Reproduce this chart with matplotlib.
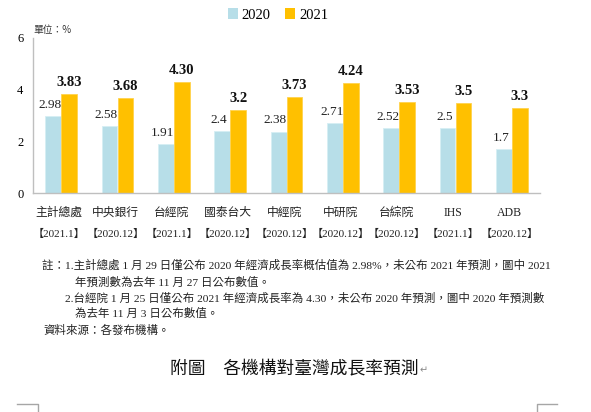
import matplotlib

matplotlib.use("Agg")
import matplotlib.pyplot as plt  # noqa: E402
import numpy as np  # noqa: E402
from matplotlib.lines import Line2D  # noqa: E402
from matplotlib.patches import Patch  # noqa: E402

# --- datos ---
instituciones = ["主計總處", "中央銀行", "台經院", "國泰台大", "中經院",
                 "中研院", "台綜院", "IHS", "ADB"]
fechas = ["【2021.1】", "【2020.12】", "【2021.1】", "【2020.12】", "【2020.12】",
          "【2020.12】", "【2020.12】", "【2021.1】", "【2020.12】"]
valores_2020 = [2.98, 2.58, 1.91, 2.4, 2.38, 2.71, 2.52, 2.5, 1.7]
valores_2021 = [3.83, 3.68, 4.30, 3.2, 3.73, 4.24, 3.53, 3.5, 3.3]
etiquetas_2020 = ["2.98", "2.58", "1.91", "2.4", "2.38", "2.71", "2.52", "2.5", "1.7"]
etiquetas_2021 = ["3.83", "3.68", "4.30", "3.2", "3.73", "4.24", "3.53", "3.5", "3.3"]
series = ["2020", "2021"]

notas = [
    "註：1.主計總處 1 月 29 日僅公布 2020 年經濟成長率概估值為 2.98%，未公布 2021 年預測，圖中 2021",
    "年預測數為去年 11 月 27 日公布數值。",
    "2.台經院 1 月 25 日僅公布 2021 年經濟成長率為 4.30，未公布 2020 年預測，圖中 2020 年預測數",
    "為去年 11 月 3 日公布數值。",
    "資料來源：各發布機構。",
]
titulo = "附圖　各機構對臺灣成長率預測"

AZUL = "#B7DEE8"
NARANJA = "#FFC000"
GRIS = "#BFBFBF"
SERIF = ["Liberation Serif", "Noto Sans CJK TC"]
CJK = ["Noto Sans CJK TC", "Liberation Serif"]

W, H = 591, 412
fig = plt.figure(figsize=(W / 100, H / 100), dpi=100)
ax = fig.add_axes([33 / W, 1 - 193 / H, 507 / W, 155 / H])

x = np.arange(len(instituciones))
ancho = 0.284
ax.bar(x - ancho / 2, valores_2020, ancho, color=AZUL, edgecolor="#D6EEF4", linewidth=0.6)
ax.bar(x + ancho / 2, valores_2021, ancho, color=NARANJA, edgecolor="#FFD34D", linewidth=0.6)

for xi, v, t in zip(x, valores_2020, etiquetas_2020):
    ax.annotate(t, (xi - ancho / 2, v), xytext=(-2.2, 5.8), textcoords="offset points",
                ha="center", va="baseline", fontsize=9.5, family=SERIF, color="#222222")
for xi, v, t in zip(x, valores_2021, etiquetas_2021):
    ax.annotate(t, (xi + ancho / 2, v), xytext=(0, 5.8), textcoords="offset points",
                ha="center", va="baseline", fontsize=10.5, family=SERIF,
                fontweight="bold", color="#111111")

ax.set_xlim(-0.5, len(instituciones) - 0.5)
ax.set_ylim(0, 6)
ax.set_yticks([0, 2, 4, 6])
ax.set_xticks([])
ax.tick_params(axis="y", length=0, pad=7, labelsize=9)
for lab in ax.get_yticklabels():
    lab.set_family(SERIF)
for lado in ["top", "right"]:
    ax.spines[lado].set_visible(False)
for lado in ["left", "bottom"]:
    ax.spines[lado].set_color(GRIS)
    ax.spines[lado].set_linewidth(1.0)

# etiquetas de categoría en dos filas
trans = ax.get_xaxis_transform()
for xi, nombre, fecha in zip(x, instituciones, fechas):
    ax.text(xi - 0.04, -0.129, nombre, transform=trans, ha="center", va="center",
            fontsize=8.5, family=SERIF, color="#222222")
    ax.text(xi - 0.04, -0.265, fecha, transform=trans, ha="center", va="center",
            fontsize=8, family=SERIF, color="#222222")

fig.text(33 / W, 1 - 30 / H, "單位：%", fontsize=7, family=CJK, va="center", color="#333333")

manejadores = [Patch(facecolor=AZUL, edgecolor="none"), Patch(facecolor=NARANJA, edgecolor="none")]
fig.legend(manejadores, series, loc="center", bbox_to_anchor=(278 / W, 1 - 15 / H),
           ncol=2, frameon=False, handlelength=0.7, handleheight=0.7, handletextpad=0.25,
           columnspacing=1.0, prop={"family": SERIF, "size": 10.5})

# notas
pos_notas = [(42, 265), (75, 282), (65, 298), (75, 313), (43, 330)]
for (px, py), texto in zip(pos_notas, notas):
    fig.text(px / W, 1 - py / H, texto, fontsize=8.25, family=SERIF, va="center", color="#222222")

# título con la marca de párrafo de Word pegada al final
t = fig.text(170 / W, 1 - 368 / H, titulo, fontsize=12.8, family=CJK, va="center", color="#111111")
ax.annotate("↵", xy=(1, 0.4), xycoords=t, xytext=(1, 0), textcoords="offset points",
            ha="left", va="center", fontsize=7, family="DejaVu Sans", color="#888888",
            annotation_clip=False)

# marcas de esquina de la página
for xs, ys in [([17, 38, 38], [404, 404, 412]), ([557, 537, 537], [404, 404, 412])]:
    fig.add_artist(Line2D([v / W for v in xs], [1 - v / H for v in ys],
                          color="#A6A6A6", linewidth=1.0))

fig.savefig("out.png", dpi=100)
